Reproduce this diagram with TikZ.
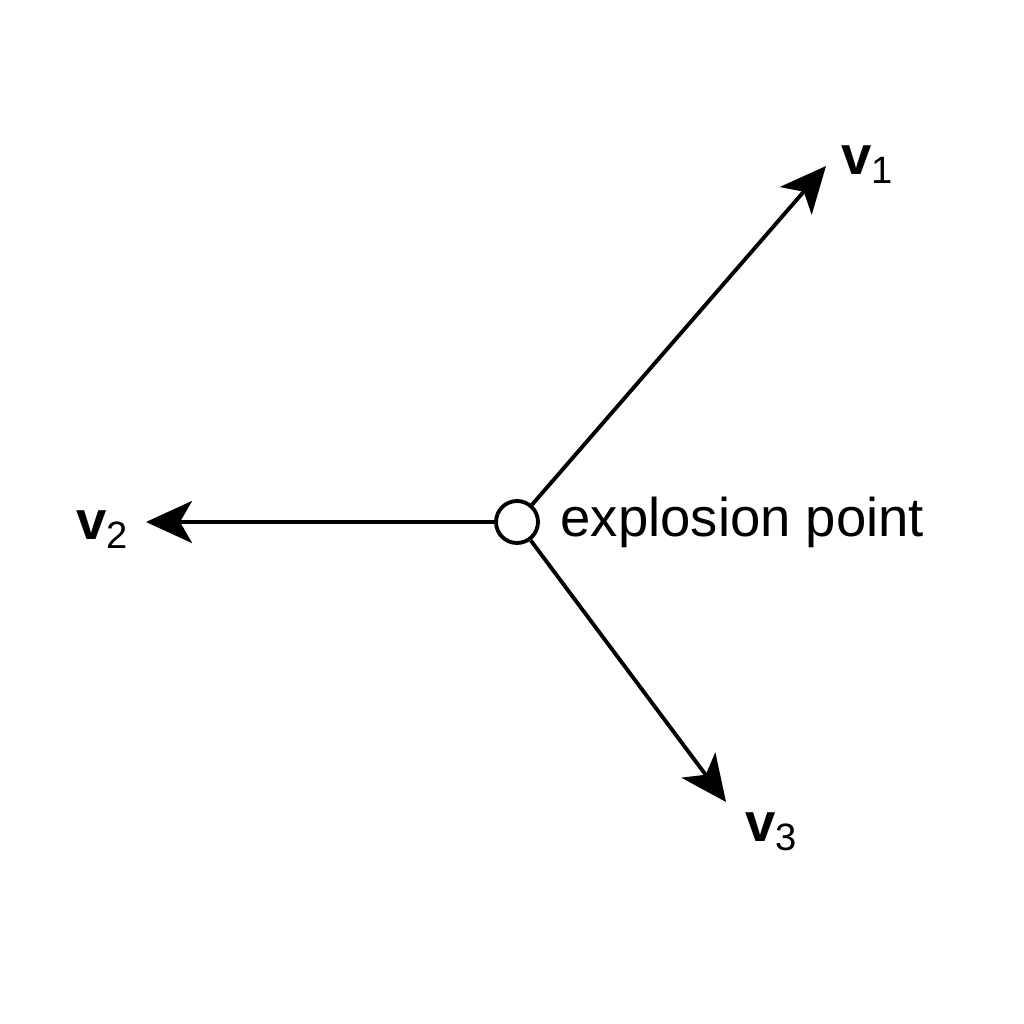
\documentclass[tikz,border=0pt]{standalone}
\usepackage{fontspec}
\setmainfont{Liberation Sans}
\usetikzlibrary{arrows.meta}

\begin{document}
\begin{tikzpicture}[x=0.1mm, y=0.1mm]
    \tikzset{every node/.style={inner sep=0pt, font=\fontsize{15.5}{18}\selectfont},
      vec/.style={line width=1.1pt, -{Stealth[length=4.6mm,width=4.2mm,inset=1.2mm]}}}
    \useasboundingbox [fill=white] (0,0) rectangle (1024,-1024);
    \node (ex) at (517,-522) [circle, draw, line width=1.1pt, fill=white, minimum size=4.2mm] {};
    \coordinate (t1) at (826,-166);
    \coordinate (t2) at (146,-522);
    \coordinate (t3) at (726,-802);
    \draw [vec] (ex) -- (t1);
    \draw [vec] (ex) -- (t2);
    \draw [vec] (ex) -- (t3);
    \node (l1) at (868,-165) {\textbf{v}\textsubscript{1}};
    \node (l2) at (103,-530) {\textbf{v}\textsubscript{2}};
    \node (l3) at (772,-832) {\textbf{v}\textsubscript{3}};
    \node (lp) at (560,-522) [anchor=west] {explosion point};
\end{tikzpicture}
\end{document}
